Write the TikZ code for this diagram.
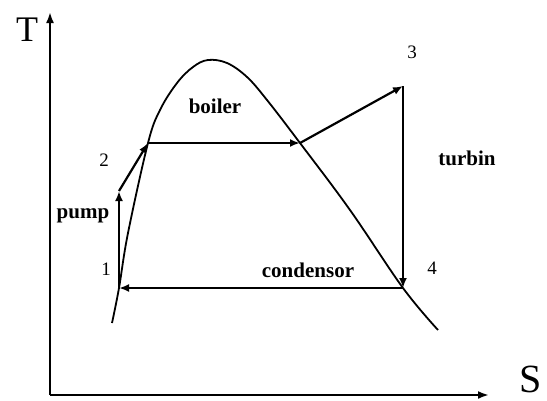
\documentclass[tikz,border=0pt]{standalone}
\usepackage{fontspec}
\setmainfont{Liberation Serif}
\usetikzlibrary{arrows.meta}

\begin{document}
\begin{tikzpicture}[x=1pt, y=-1pt, line width=2.2pt,
    flow/.style={-{Latex[length=10pt,width=8pt]}},
    lbl/.style={font=\fontsize{21}{21}\selectfont\bfseries},
    num/.style={font=\fontsize{19}{19}\selectfont},
    axlbl/.style={font=\fontsize{36}{36}\selectfont, inner sep=0pt}]
    \useasboundingbox (0,0) rectangle (547,400);
    \coordinate (o) at (50,395);
    \coordinate (tend) at (50,12);
    \coordinate (send) at (489,395);
    \coordinate (p1) at (119,288);
    \coordinate (pa) at (119,191);
    \coordinate (p2) at (148,143);
    \coordinate (pv) at (300,143);
    \coordinate (p3) at (403,86);
    \coordinate (p4) at (403,288);
    \draw[-{Latex[length=11pt,width=8pt]}] (o) -- (tend);
    \draw[-{Latex[length=11pt,width=8pt]}] (o) -- (send);
    \node[axlbl] (tlbl) at (27,30) {T};
    \node[axlbl, font=\fontsize{40}{40}\selectfont] (slbl) at (531,379) {S};
    \draw[line width=1.8pt] plot[smooth, tension=0.6] coordinates {(112,323) (p1) (128,233)
      (p2) (160,110) (177,83) (193,67) (208,60) (227,63) (247,77) (267,100)
      (pv) (350,210) (p4) (438,330)};
    \draw[flow] (p1) -- (pa);
    \draw[flow] (pa) -- (p2);
    \draw[flow] (p2) -- (pv);
    \draw[flow] (pv) -- (p3);
    \draw[flow] (p3) -- (p4);
    \draw[flow] (p4) -- (p1);
    \node[num] (n1) at (106,269) {1};
    \node[num] (n2) at (104,160) {2};
    \node[num] (n3) at (412,52) {3};
    \node[num] (n4) at (432,268) {4};
    \node[lbl] (pump) at (83,216) {pump};
    \node[lbl] (boiler) at (215,106) {boiler};
    \node[lbl] (turbin) at (467,158) {turbin};
    \node[lbl] (condensor) at (308,270) {condensor};
  \end{tikzpicture}
\end{document}
